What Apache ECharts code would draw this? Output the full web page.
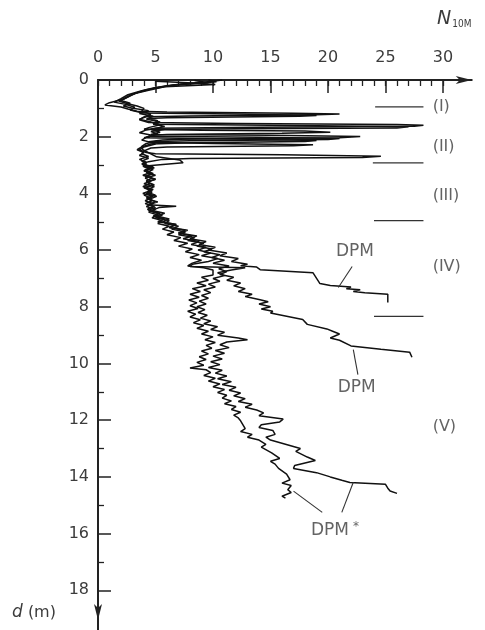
<!DOCTYPE html>
<html>
<head>
<meta charset="utf-8">
<script src="https://cdn.jsdelivr.net/npm/echarts@6/dist/echarts.min.js"></script>
<style>
  html, body { margin: 0; padding: 0; background: #fff; }
  #chart { width: 485px; height: 630px; }
</style>
</head>
<body>
<div id="chart"></div>
<script>
// Dynamic probing records: [N10M blows, depth d in m]
const dpmA = [
  [9.6,0.0],[10.3,0.06],[8.4,0.12],[6.0,0.2],[4.8,0.3],[3.6,0.42],[2.8,0.55],[2.2,0.68],[1.0,0.8],[0.6,0.88],[2.0,0.95],[2.6,1.02],[3.4,1.1],
  [6.0,1.13],[17.0,1.17],[21.0,1.2],[19.0,1.23],[8.0,1.27],[4.2,1.3],[3.6,1.38],[4.6,1.48],[5.4,1.58],[4.4,1.68],[4.0,1.74],
  [9.0,1.77],[18.0,1.8],[20.2,1.84],[16.0,1.88],[6.0,1.92],[4.8,1.95],[4.2,2.02],[3.8,2.12],[4.6,2.2],
  [10.0,2.24],[18.7,2.28],[17.0,2.32],[6.0,2.36],[4.6,2.4],[4.0,2.5],[3.8,2.6],[4.4,2.7],[3.6,2.8],[4.2,2.9],[3.9,3.0],
  [4.9,3.1],[4.0,3.2],[4.7,3.3],[4.1,3.4],[5.0,3.5],[4.2,3.6],[4.8,3.7],[4.0,3.8],[4.6,3.9],[3.9,4.0],
  [4.8,4.1],[4.3,4.2],[5.2,4.3],[4.4,4.4],[5.0,4.5],[4.4,4.6],[5.4,4.7],[4.8,4.8],[5.8,4.9],[5.2,5.0],
  [6.8,5.1],[6.2,5.2],[7.8,5.3],[7.0,5.4],[8.6,5.5],[8.0,5.6],[9.4,5.7],[8.8,5.8],[10.2,5.9],[9.6,6.0],
  [11.2,6.1],[10.6,6.2],[12.2,6.3],[11.6,6.4],[13.0,6.5],[12.4,6.55],[13.8,6.6],[14.1,6.69],
  [18.7,6.8],[19.3,7.18],[20.2,7.25],[22.0,7.3],[21.6,7.36],[22.8,7.4],[22.2,7.46],[23.2,7.5],[25.2,7.56],[25.2,7.85]
];

const dpmB = [
  [10.8,0.0],[9.8,0.05],[7.2,0.14],[5.0,0.26],[3.8,0.38],[2.6,0.52],[2.0,0.66],[1.4,0.78],[2.4,0.86],[3.2,0.96],[2.8,1.06],[3.8,1.16],
  [12.0,1.2],[19.0,1.25],[17.5,1.28],[6.0,1.33],[4.4,1.36],[5.2,1.44],[4.8,1.54],[5.8,1.64],[4.6,1.74],[5.4,1.84],[4.6,1.92],
  [15.0,1.95],[22.8,1.99],[21.0,2.04],[7.0,2.09],[5.6,2.12],[4.4,2.18],[5.0,2.26],[4.0,2.36],[3.6,2.46],[4.2,2.56],[5.0,2.6],
  [16.0,2.64],[24.6,2.69],[23.0,2.73],[8.0,2.77],[5.6,2.8],[4.4,2.88],[3.8,2.96],
  [4.8,3.06],[4.1,3.16],[4.6,3.26],[3.9,3.36],[4.7,3.46],[4.2,3.56],[4.5,3.66],[3.9,3.76],[4.8,3.86],[4.3,3.96],
  [5.0,4.06],[4.2,4.16],[4.7,4.26],[4.1,4.36],[4.9,4.46],[4.3,4.56],[4.8,4.66],[5.6,4.76],[5.0,4.86],[6.2,4.96],
  [5.8,5.06],[7.0,5.16],[6.4,5.26],[7.6,5.36],[7.0,5.46],[8.4,5.56],[7.8,5.66],[9.2,5.76],[8.6,5.86],[9.9,5.96],
  [9.2,6.06],[10.6,6.16],[9.9,6.26],[11.0,6.36],[10.0,6.46],[11.4,6.56],[10.5,6.66],[11.2,6.76],[10.6,6.86],[11.8,6.96],
  [11.2,7.06],[12.4,7.16],[11.8,7.26],[12.8,7.36],[12.2,7.46],[13.4,7.56],[12.8,7.64],[14.1,7.75],[14.8,7.82],[14.0,7.9],
  [15.0,8.0],[14.2,8.08],[15.2,8.16],[15.0,8.22],
  [17.8,8.45],[18.2,8.62],[19.9,8.78],[20.4,8.86],[21.0,8.96],[20.2,9.1],[21.0,9.18],[22.0,9.38],[24.6,9.5],[27.1,9.6],[27.3,9.78]
];

const dpmC = [
  [8.4,0.02],[9.6,0.1],[6.6,0.18],[4.2,0.34],[3.0,0.5],[2.4,0.62],[1.8,0.74],[2.6,0.84],[3.4,0.92],[4.0,1.0],[3.8,1.1],[4.6,1.2],[4.0,1.3],[3.6,1.4],[4.4,1.5],
  [12.0,1.53],[26.0,1.57],[28.3,1.6],[27.5,1.63],[14.0,1.67],[5.0,1.7],[4.2,1.76],[3.6,1.86],[4.8,1.96],[4.0,2.04],
  [12.0,2.08],[19.0,2.13],[18.0,2.17],[8.0,2.21],[4.6,2.26],[3.8,2.36],[3.4,2.46],[4.0,2.56],[3.6,2.66],[4.4,2.76],[3.8,2.86],[4.2,2.96],
  [4.0,3.06],[4.8,3.16],[4.2,3.26],[5.0,3.36],[4.1,3.46],[4.6,3.56],[4.0,3.66],[4.9,3.76],[4.3,3.86],[4.7,3.96],
  [4.0,4.06],[4.6,4.16],[4.1,4.26],[4.8,4.36],[4.2,4.46],[5.0,4.56],[4.4,4.66],[5.2,4.76],[4.7,4.86],[5.6,4.96],
  [5.2,5.06],[6.2,5.16],[5.6,5.26],[6.6,5.36],[6.0,5.46],[7.2,5.56],[6.6,5.66],[7.8,5.76],[7.0,5.86],[8.2,5.96],
  [7.6,6.06],[8.8,6.16],[8.0,6.26],[9.0,6.36],[8.2,6.46],[7.8,6.56],[9.2,6.62],[10.0,6.7],[10.0,6.88],[9.0,6.96],
  [9.6,7.06],[8.6,7.16],[9.4,7.26],[8.2,7.36],[8.9,7.46],[8.0,7.56],[8.8,7.66],[7.9,7.76],[8.6,7.86],[8.0,7.96],
  [8.7,8.06],[7.8,8.16],[8.5,8.26],[8.0,8.36],[8.9,8.46],[8.3,8.56],[9.2,8.66],[8.6,8.76],[9.6,8.86],[9.0,8.96],
  [10.0,9.06],[9.3,9.16],[10.2,9.26],[9.4,9.36],[9.9,9.46],[9.0,9.56],[9.6,9.66],[8.8,9.76],[9.4,9.86],[8.6,9.96],
  [9.2,10.06],[8.0,10.16],[9.4,10.22],[9.8,10.32],[9.2,10.42],[10.2,10.52],[9.6,10.62],[10.6,10.72],[10.0,10.82],[11.0,10.92],
  [10.4,11.02],[11.2,11.12],[10.8,11.22],[11.6,11.32],[11.0,11.42],[12.0,11.52],[11.6,11.62],[12.4,11.72],[11.8,11.82],[12.2,11.92],
  [12.4,12.02],[12.8,12.3],[12.4,12.4],[13.4,12.5],[13.0,12.6],[14.0,12.7],[14.6,12.85],[14.2,12.95],[15.1,13.15],[15.8,13.35],
  [15.0,13.45],[15.4,13.55],[15.7,13.7],[16.4,13.9],[16.7,14.1],[16.0,14.22],[16.8,14.3],[16.5,14.45],[16.8,14.55],[16.0,14.68],[16.3,14.75]
];

const dpmD = [
  [5.0,0.04],[7.8,0.1],[10.2,0.16],[5.8,0.24],[4.4,0.36],[3.2,0.48],[2.6,0.6],[2.0,0.72],[2.8,0.82],[2.2,0.92],[3.0,1.0],[4.4,1.08],[3.6,1.18],[4.8,1.28],[4.2,1.38],[5.4,1.48],[4.8,1.56],
  [15.0,1.6],[27.0,1.65],[26.0,1.69],[12.0,1.72],[5.8,1.75],[4.6,1.82],[5.2,1.9],[4.4,1.98],
  [14.0,2.02],[21.0,2.06],[20.0,2.1],[8.0,2.14],[5.0,2.17],[4.2,2.24],[3.8,2.34],[3.9,2.46],[5.1,2.71],[7.1,2.82],[7.4,2.92],[3.9,3.04],
  [4.6,3.1],[4.0,3.2],[4.8,3.3],[4.2,3.4],[5.0,3.5],[4.3,3.6],[4.9,3.7],[4.1,3.8],[4.7,3.9],[4.2,4.0],
  [5.1,4.1],[4.5,4.2],[5.0,4.3],[4.3,4.4],[6.8,4.45],[5.3,4.5],[4.7,4.6],[5.8,4.7],[5.1,4.8],[6.2,4.9],[5.6,5.0],
  [6.8,5.1],[6.2,5.2],[7.6,5.3],[7.0,5.4],[8.2,5.5],[7.4,5.6],[8.8,5.7],[8.1,5.8],[9.4,5.9],[8.7,6.0],
  [9.8,6.1],[9.0,6.2],[10.4,6.3],[9.6,6.4],[8.2,6.5],[8.0,6.58],[12.8,6.62],[11.6,6.7],[10.4,6.8],[11.0,6.9],[10.0,7.0],
  [10.6,7.1],[9.6,7.2],[10.2,7.3],[9.2,7.4],[9.8,7.5],[9.0,7.6],[9.6,7.7],[8.8,7.8],[9.4,7.9],[8.6,8.0],
  [9.3,8.1],[8.7,8.2],[9.5,8.3],[8.9,8.4],[9.8,8.5],[9.2,8.6],[10.4,8.7],[9.8,8.8],[11.0,8.9],[10.4,9.0],
  [12.2,9.1],[13.0,9.16],[11.2,9.24],[10.6,9.34],[11.4,9.44],[10.2,9.54],[11.0,9.64],[10.0,9.74],[10.8,9.84],[9.8,9.94],
  [10.6,10.04],[9.6,10.14],[10.8,10.24],[10.2,10.34],[11.2,10.44],[10.4,10.54],[11.6,10.64],[10.8,10.74],[12.0,10.84],[11.4,10.94],
  [12.4,11.04],[11.8,11.14],[12.8,11.24],[12.2,11.34],[13.4,11.44],[12.8,11.54],[13.8,11.64],[14.4,11.74],[14.0,11.84],[16.1,11.96],
  [15.8,12.06],[14.2,12.16],[14.0,12.26],[15.2,12.36],[15.4,12.5],[14.6,12.6],[15.0,12.7],[17.6,13.0],[17.2,13.1],[18.2,13.3],
  [18.9,13.42],[17.1,13.6],[17.0,13.7],[19.0,13.85],[20.2,14.0],[21.2,14.12],[21.9,14.2],[25.0,14.26],[25.2,14.4],[25.4,14.5],[26.0,14.58]
];

// Axis ticks and labels
const xMajor = [0, 5, 10, 15, 20, 25, 30];
const xMinor = [0,1,2,3,4,5,6,7,8,9,10,11,12,13,14,15,16,17,18,19,20,21,22,23,24,25,26,27,28,29,30];
const yMajor = [0, 2, 4, 6, 8, 10, 12, 14, 16, 18];
const yMinor = [1, 3, 5, 7, 9, 11, 13, 15, 17];

// Layer boundaries: depth, from N, to N
const layerBounds = [[0.95, 24.1, 28.3], [2.92, 23.9, 28.3], [4.96, 24.0, 28.3], [8.34, 24.0, 28.3]];
// Layer names and their depths
const layerNames = ['(I)', '(II)', '(III)', '(IV)', '(V)'];
const layerDepths = [0.95, 2.35, 4.1, 6.6, 12.25];
const layerLabelN = 29.1;

// Curve captions [text, N, d] and their leader lines [[N1,d1],[N2,d2]]
const captions = [['DPM', 22.35, 6.06], ['DPM', 22.5, 10.85], ['DPM*', 20.6, 15.9]];
const leaders = [
  [[22.1, 6.58], [20.9, 7.32]],
  [[22.2, 9.51], [22.6, 10.39]],
  [[19.5, 15.25], [17.0, 14.5]],
  [[21.2, 15.25], [22.2, 14.19]]
];

const X_MAX = 32.5;
const Y_MAX = 19.4;
const INK = '#111';
const TEXT = '#3c3c3c';
const FONT = 'DejaVu Sans';

const chart = echarts.init(document.getElementById('chart'), null, { renderer: 'canvas' });

const traceSeries = [dpmA, dpmB, dpmC, dpmD].map(function (d) {
  return {
    type: 'line', data: d, showSymbol: false, symbol: 'none', z: 3,
    lineStyle: { color: INK, width: 1.5 }, silent: true
  };
});

const boundSeries = layerBounds.map(function (b) {
  return {
    type: 'line', data: [[b[1], b[0]], [b[2], b[0]]], symbol: 'none', silent: true,
    lineStyle: { color: '#333', width: 1.3 }
  };
});

const leaderSeries = leaders.map(function (l) {
  return {
    type: 'line', data: l, symbol: 'none', silent: true,
    lineStyle: { color: '#333', width: 1.1 }
  };
});

const layerLabelSeries = {
  type: 'scatter', symbolSize: 0, silent: true,
  data: layerNames.map(function (n, i) { return { name: n, value: [layerLabelN, layerDepths[i]] }; }),
  label: {
    show: true, position: 'right', distance: 0, formatter: '{b}',
    fontFamily: FONT, fontSize: 16, color: TEXT
  }
};

const captionSeries = {
  type: 'scatter', symbolSize: 0, silent: true,
  data: captions.map(function (c) { return { name: c[0], value: [c[1], c[2]] }; }),
  label: {
    show: true, position: 'inside',
    formatter: function (p) {
      return p.name.slice(-1) === '*' ? '{m|DPM}{s|*}' : '{m|' + p.name + '}';
    },
    rich: {
      m: { fontFamily: FONT, fontSize: 17, color: TEXT },
      s: { fontFamily: FONT, fontSize: 12, color: TEXT, verticalAlign: 'top', padding: [0, 0, 8, 4] }
    }
  }
};

const axisLineStyle = { color: '#222', width: 2 };

chart.setOption({
  animation: false,
  backgroundColor: '#fff',
  grid: { left: 98, top: 80, width: 11.5 * X_MAX, height: 550, containLabel: false },
  xAxis: [
    {
      type: 'value', position: 'top', min: 0, max: X_MAX,
      axisLine: { show: true, onZero: false, lineStyle: axisLineStyle, symbol: ['none', 'arrow'], symbolSize: [6, 16] },
      axisTick: { show: true, inside: true, length: 13, customValues: xMajor, lineStyle: { color: '#222', width: 1.5 } },
      axisLabel: { customValues: xMajor, margin: 14, fontFamily: FONT, fontSize: 16, color: TEXT },
      splitLine: { show: false }
    },
    {
      type: 'value', position: 'top', min: 0, max: X_MAX,
      axisLine: { show: false, onZero: false },
      axisTick: { show: true, inside: true, length: 6, customValues: xMinor, lineStyle: { color: '#222', width: 1.3 } },
      axisLabel: { show: false },
      splitLine: { show: false }
    }
  ],
  yAxis: [
    {
      type: 'value', inverse: true, position: 'left', min: 0, max: Y_MAX,
      axisLine: { show: true, onZero: false, lineStyle: axisLineStyle, symbol: ['arrow', 'none'], symbolSize: [6, 16], symbolOffset: [10, 0] },
      axisTick: { show: true, inside: true, length: 13, customValues: yMajor, lineStyle: { color: '#222', width: 1.5 } },
      axisLabel: { customValues: yMajor, margin: 9, fontFamily: FONT, fontSize: 16, color: TEXT },
      splitLine: { show: false }
    },
    {
      type: 'value', inverse: true, position: 'left', min: 0, max: Y_MAX,
      axisLine: { show: false, onZero: false },
      axisTick: { show: true, inside: true, length: 6, customValues: yMinor, lineStyle: { color: '#222', width: 1.3 } },
      axisLabel: { show: false },
      splitLine: { show: false }
    }
  ],
  graphic: [
    {
      type: 'text', left: 437, top: 10,
      style: {
        text: '{n|N}{s|10M}',
        rich: {
          n: { fontFamily: FONT, fontStyle: 'italic', fontSize: 19, fill: TEXT },
          s: { fontFamily: 'DejaVu Sans Condensed', fontSize: 10, fill: TEXT, verticalAlign: 'bottom', padding: [8, 0, 0, 1] }
        }
      }
    },
    {
      type: 'text', left: 12, top: 604,
      style: {
        text: '{i|d} (m)',
        rich: { i: { fontFamily: FONT, fontStyle: 'italic', fontSize: 17, fill: TEXT } },
        fontFamily: FONT, fontSize: 16, fill: TEXT
      }
    }
  ],
  series: traceSeries.concat(boundSeries, leaderSeries, [layerLabelSeries, captionSeries])
});
</script>
</body>
</html>
